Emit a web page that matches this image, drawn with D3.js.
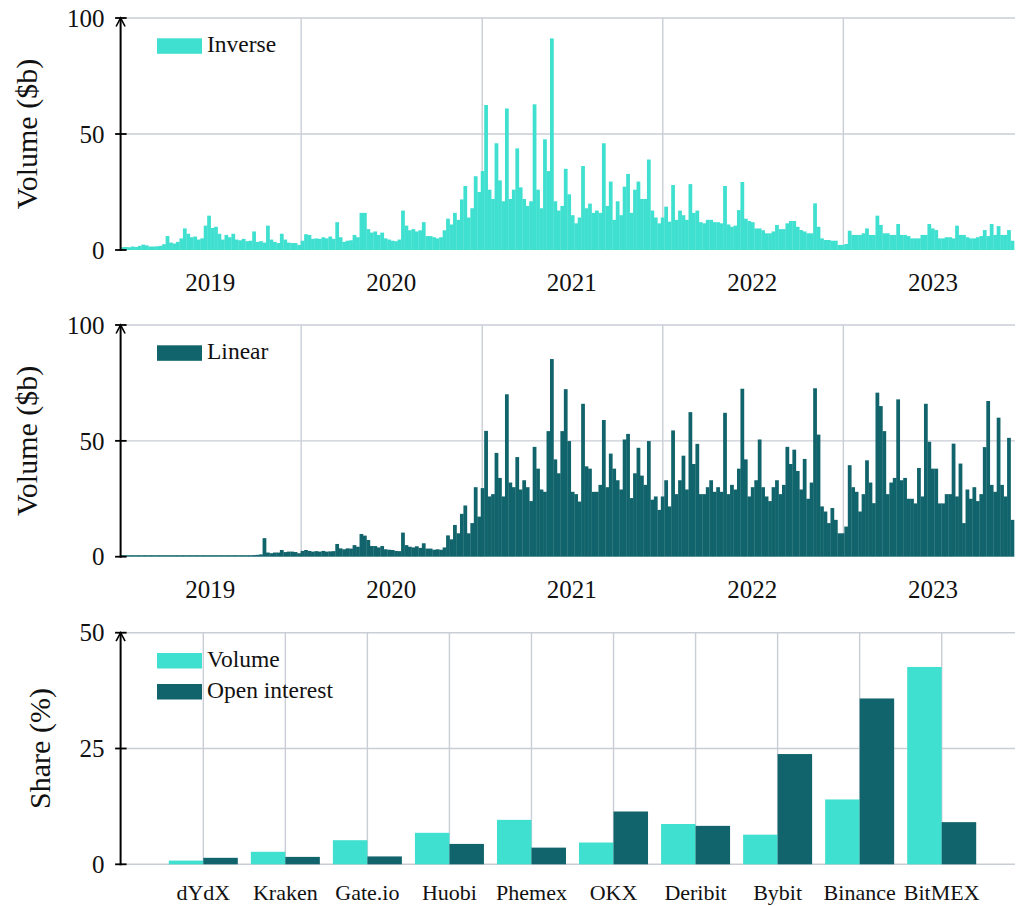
<!DOCTYPE html>
<html>
<head>
<meta charset="utf-8">
<script src="https://cdn.jsdelivr.net/npm/d3@7"></script>
<style>
  body { margin: 0; background: #fff; }
  svg text { font-family: "Liberation Serif", "DejaVu Serif", serif; fill: #111; }
</style>
</head>
<body>
<svg id="chart" width="1016" height="906" font-family="Liberation Serif, serif"></svg>
<script>
/* Three stacked panels: weekly inverse volume, weekly linear volume,
   and exchange market share. */

const colors = {
    inverse: '#40e0d0',
    linear: '#11646b',
    grid: '#c9ced6',
    axis: '#000'
};

const FONT = '"Liberation Serif", serif';

// weekly volume ($b), one value per week starting 2019-01-01
const inverseVolume = [
    1.2,1.3,1.2,1.5,1.3,1.8,2.3,2.0,1.5,1.5,1.6,1.8,2.5,
    6.0,3.2,2.8,3.5,5.0,9.3,7.0,5.5,5.8,4.5,5.0,10.5,14.8,
    9.5,10.0,7.0,4.5,6.5,5.5,7.0,4.5,4.2,4.8,3.8,4.0,8.0,
    3.5,3.8,3.2,10.5,4.5,3.5,3.0,7.0,4.5,3.2,3.0,3.0,2.2,
    4.0,6.8,6.5,4.8,5.0,4.8,5.5,5.0,5.8,4.8,12.0,5.5,3.5,
    4.0,4.2,6.5,5.5,16.0,16.0,9.0,7.5,8.0,6.5,7.5,5.0,4.5,
    4.0,3.8,4.5,17.0,10.5,8.5,9.0,8.0,8.5,12.0,6.0,6.0,5.5,
    5.0,5.5,8.5,13.5,11.0,16.0,13.0,21.8,27.6,14.0,18.0,31.8,25.0,
    34.0,62.5,26.0,22.0,46.0,30.0,21.0,61.0,22.0,26.0,43.8,27.0,22.0,
    19.0,21.0,62.8,26.0,18.0,47.7,34.0,91.2,21.0,17.0,19.0,35.0,
    24.0,15.0,11.5,14.0,36.2,18.0,20.0,16.0,17.0,16.0,46.0,19.0,29.5,
    13.0,21.0,15.0,27.3,32.8,16.0,26.0,29.5,22.0,22.0,39.0,17.0,14.0,
    11.5,14.0,18.7,12.2,28.0,13.0,17.0,15.0,13.0,28.4,16.0,17.0,12.0,
    11.5,13.0,13.0,12.0,12.0,11.5,27.6,11.0,10.0,10.5,17.2,29.3,13.5,
    12.5,12.0,9.3,9.3,8.5,7.2,7.2,8.0,10.8,9.0,9.0,11.5,12.5,
    12.5,10.0,8.6,8.0,7.2,7.2,20.1,10.0,5.0,4.3,4.3,4.0,4.0,
    2.2,2.2,2.6,8.3,6.5,6.5,6.5,7.2,9.3,6.5,6.5,14.8,10.8,
    7.2,7.2,6.5,6.5,11.2,6.5,6.5,6.0,5.0,5.0,5.0,6.5,6.5,
    11.2,9.3,8.6,5.0,5.0,5.5,5.5,5.0,10.5,6.5,6.5,5.5,5.0,
    5.0,5.5,6.0,8.6,6.0,11.2,6.5,10.3,6.5,6.5,8.6,4.0
];

const linearVolume = [
    0,0,0,0,0,0,0,0,0,0,0,0,0,0,0,0,0,0,0,0,0,0,0,0,0,0,0,0,0,0,0,0,0,0,0,0,0,
    0.5,0.7,0.8,1.0,8.0,1.8,1.5,1.8,1.8,2.9,2.0,2.2,2.2,
    2.0,1.5,2.5,2.9,2.5,2.2,2.4,2.2,2.5,2.2,2.3,2.4,5.5,
    3.6,3.2,3.6,3.5,5.0,4.3,9.8,9.1,7.2,4.6,4.6,4.0,4.6,
    3.2,3.0,2.9,2.5,2.4,10.4,5.0,4.3,4.0,4.5,3.8,5.8,3.5,
    3.5,3.0,3.2,3.0,4.0,9.2,7.5,13.7,10.1,18.5,22.1,10.1,14.5,
    30.0,17.3,29.6,54.3,26.0,27.0,44.8,34.0,26.0,70.1,32.0,30.0,43.0,
    29.0,33.0,30.0,24.0,47.4,38.0,29.0,28.0,54.2,85.3,42.0,36.0,54.2,72.3,
    49.9,28.0,27.0,23.8,66.0,39.0,38.0,28.0,28.0,31.0,59.0,30.0,44.5,
    38.0,33.0,29.0,50.6,53.0,25.3,36.0,47.0,35.0,31.0,49.9,24.6,26.0,
    20.2,26.0,33.0,21.7,54.5,27.0,33.0,43.6,29.0,62.4,40.0,48.7,27.0,
    27.0,30.0,33.0,28.0,30.0,28.0,62.1,27.0,31.0,29.0,38.0,72.5,42.0,
    26.0,30.0,33.0,50.6,30.0,26.0,24.0,30.0,33.0,27.0,31.0,47.4,40.0,
    46.2,37.0,29.0,42.2,25.0,32.0,72.7,52.7,21.7,19.5,14.5,21.0,15.9,
    10.1,10.1,13.0,39.5,30.0,28.0,19.5,27.0,41.6,32.0,23.1,70.8,65.0,
    54.2,27.0,32.0,34.0,67.9,33.0,34.0,25.0,25.0,23.0,38.3,26.0,66.0,
    49.6,38.0,38.0,23.0,23.0,27.0,27.0,48.8,26.0,40.2,14.5,29.0,25.0,
    30.0,24.0,27.0,47.3,67.2,31.0,28.0,60.0,31.0,26.0,51.3,15.9
];

const START = new Date(Date.UTC(2019, 0, 1));
const END = new Date(Date.UTC(2023, 11, 14));
const weeks = d3.range(inverseVolume.length).map(i => d3.utcDay.offset(START, 7 * i));
const yearGrid = [2020, 2021, 2022, 2023];
const yearLabels = [2019, 2020, 2021, 2022, 2023];
const volumeTicks = [0, 50, 100];

// market share (%)
const exchanges = ['dYdX', 'Kraken', 'Gate.io', 'Huobi', 'Phemex', 'OKX', 'Deribit', 'Bybit', 'Binance', 'BitMEX'];
const volumeShare = [0.8, 2.7, 5.2, 6.8, 9.6, 4.7, 8.7, 6.4, 14.0, 42.6];
const oiShare = [1.4, 1.6, 1.7, 4.4, 3.6, 11.4, 8.3, 23.8, 35.8, 9.1];
const shareTicks = [0, 25, 50];

const LEFT = 120.6, RIGHT = 1015;
const svg = d3.select('#chart');

const x = d3.scaleUtc().domain([START, END]).range([LEFT, RIGHT]);

function addText(g, size) {
    return g.append('text')
        .attr('font-family', FONT)
        .style('font-family', FONT)
        .style('font-size', size + 'px');
}

function hGrid(g, y, ticks) {
    g.selectAll(null).data(ticks).join('line')
        .attr('x1', LEFT).attr('x2', RIGHT)
        .attr('y1', d => y(d)).attr('y2', d => y(d))
        .attr('stroke', colors.grid).attr('stroke-width', 1.4);
}

function yAxis(g, y, ticks, label, labelX) {
    const [y0, y1] = y.range();
    g.append('line')
        .attr('x1', LEFT).attr('x2', LEFT)
        .attr('y1', y0 + 1).attr('y2', y1)
        .attr('stroke', colors.axis).attr('stroke-width', 2);
    g.append('path')
        .attr('d', `M${LEFT - 4.5},${y1 + 8.5} L${LEFT},${y1} L${LEFT + 4.5},${y1 + 8.5}`)
        .attr('fill', 'none').attr('stroke', colors.axis).attr('stroke-width', 1.6);
    g.selectAll(null).data(ticks).join('line')
        .attr('x1', LEFT - 5.5).attr('x2', LEFT + 6)
        .attr('y1', d => y(d)).attr('y2', d => y(d))
        .attr('stroke', colors.axis).attr('stroke-width', 1.8);
    ticks.forEach(t => {
        addText(g, 25)
            .attr('x', LEFT - 16).attr('y', y(t)).attr('dy', '0.35em')
            .attr('text-anchor', 'end')
            .text(t);
    });
    addText(g, 30)
        .attr('transform', `translate(${labelX},${(y0 + y1) / 2}) rotate(-90)`)
        .attr('text-anchor', 'middle')
        .text(label);
}

function legendItem(g, ly, color, label) {
    g.append('rect')
        .attr('x', 157).attr('y', ly).attr('width', 45).attr('height', 15.5)
        .attr('fill', color);
    addText(g, 23.5)
        .attr('x', 207).attr('y', ly + 13.8)
        .text(label);
}

function makeVolumePanel(top, base, values, color, label) {
    const g = svg.append('g');
    const y = d3.scaleLinear().domain([0, 100]).range([base, top]);

    hGrid(g, y, [50, 100]);
    g.selectAll(null).data(yearGrid).join('line')
        .attr('x1', d => x(new Date(Date.UTC(d, 0, 1)))).attr('x2', d => x(new Date(Date.UTC(d, 0, 1))))
        .attr('y1', top).attr('y2', base)
        .attr('stroke', colors.grid).attr('stroke-width', 1.4);

    g.selectAll(null).data(values).join('rect')
        .attr('x', (d, i) => x(weeks[i]))
        .attr('width', (d, i) => x(d3.utcDay.offset(weeks[i], 7)) - x(weeks[i]) + 0.3)
        .attr('y', d => Math.min(y(d), base - 1.5))
        .attr('height', d => Math.max(base - y(d), 1.5))
        .attr('fill', color);

    yearLabels.forEach(yr => {
        addText(g, 25)
            .attr('x', x(new Date(Date.UTC(yr, 6, 1))))
            .attr('y', base + 41)
            .attr('text-anchor', 'middle')
            .text(yr);
    });

    yAxis(g, y, volumeTicks, 'Volume ($b)', 37);
    legendItem(g, top + 20.3, color, label);
}

function makeSharePanel(top, base) {
    const g = svg.append('g');
    const y = d3.scaleLinear().domain([0, 50]).range([base, top]);
    const xb = d3.scalePoint().domain(exchanges).range([203.3, 941.7]);
    const bw = 34.5;

    hGrid(g, y, [0, 25, 50]);
    g.selectAll(null).data(exchanges).join('line')
        .attr('x1', d => xb(d)).attr('x2', d => xb(d))
        .attr('y1', top).attr('y2', base)
        .attr('stroke', colors.grid).attr('stroke-width', 1.4);

    g.selectAll(null).data(volumeShare).join('rect')
        .attr('x', (d, i) => xb(exchanges[i]) - bw)
        .attr('width', bw)
        .attr('y', d => y(d)).attr('height', d => base - y(d))
        .attr('fill', colors.inverse);
    g.selectAll(null).data(oiShare).join('rect')
        .attr('x', (d, i) => xb(exchanges[i]))
        .attr('width', bw)
        .attr('y', d => y(d)).attr('height', d => base - y(d))
        .attr('fill', colors.linear);

    exchanges.forEach(name => {
        addText(g, 22)
            .attr('x', xb(name)).attr('y', base + 36)
            .attr('text-anchor', 'middle')
            .text(name);
    });

    yAxis(g, y, shareTicks, 'Share (%)', 50);
    legendItem(g, 653, colors.inverse, 'Volume');
    legendItem(g, 684, colors.linear, 'Open interest');
}

makeVolumePanel(18, 250, inverseVolume, colors.inverse, 'Inverse');
makeVolumePanel(325, 556.7, linearVolume, colors.linear, 'Linear');
makeSharePanel(632.7, 864.3);
</script>
</body>
</html>
